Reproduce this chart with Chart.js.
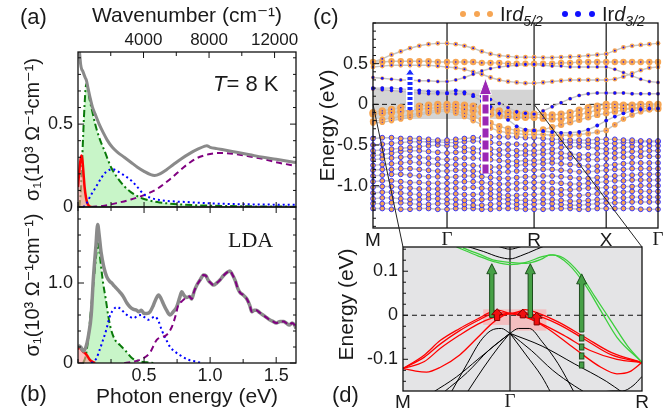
<!DOCTYPE html>
<html>
<head>
<meta charset="utf-8">
<script src="https://cdn.jsdelivr.net/npm/chart.js@4.4.1/dist/chart.umd.min.js"></script>
<style>
  body { margin: 0; width: 667px; height: 417px; overflow: hidden; position: relative; background: #fff;
         font-family: 'Liberation Sans', 'DejaVu Sans', Arial, sans-serif; color: #1a1a1a; }
  canvas { position: absolute; left: 0; top: 0; }
  .lab { position: absolute; white-space: nowrap; line-height: 1; }
  .dot { position: absolute; width: 6px; height: 6px; border-radius: 3px; }
</style>
</head>
<body>
<canvas id="ca" width="667" height="417"></canvas>
<canvas id="cb" width="667" height="417"></canvas>
<canvas id="cc" width="667" height="417"></canvas>
<canvas id="cd" width="667" height="417"></canvas>

<div class="lab" style="left:20px;top:6px;font-size:22px">(a)</div>
<div class="lab" style="left:20px;top:383px;font-size:22px">(b)</div>
<div class="lab" style="left:313px;top:6px;font-size:22px">(c)</div>
<div class="lab" style="left:332px;top:384px;font-size:22px">(d)</div>
<div class="lab" style="left:213px;top:73px;font-size:22px"><i>T</i>= 8 K</div>
<div class="lab" style="left:228px;top:229px;font-size:22px;font-family:'Liberation Serif',serif">LDA</div>

<div class="dot" style="left:460px;top:11px;background:#f6a553"></div>
<div class="dot" style="left:474px;top:11px;background:#f6a553"></div>
<div class="dot" style="left:487px;top:11px;background:#f6a553"></div>
<div class="lab" style="left:500px;top:4px;font-size:20px">Ir<i>d</i><sub style="font-size:14px"><i>5/2</i></sub></div>
<div class="dot" style="left:562px;top:11px;background:#1010ff"></div>
<div class="dot" style="left:575px;top:11px;background:#1010ff"></div>
<div class="dot" style="left:589px;top:11px;background:#1010ff"></div>
<div class="lab" style="left:602px;top:4px;font-size:20px">Ir<i>d</i><sub style="font-size:14px"><i>3/2</i></sub></div>

<script>
'use strict';

// ---------- panel (a): optical conductivity at 8 K, [eV, 10^3 Ohm^-1 cm^-1] ----------
const expA = [[0.003,0.97],[0.012,0.93],[0.02,0.86],[0.028,0.83],[0.036,0.82],[0.045,0.8],[0.055,0.78],
  [0.065,0.76],[0.075,0.72],[0.09,0.665],[0.11,0.6],[0.13,0.56],[0.16,0.5],[0.19,0.45],[0.22,0.405],
  [0.26,0.36],[0.3,0.33],[0.35,0.3],[0.4,0.27],[0.45,0.24],[0.5,0.215],[0.55,0.195],[0.58,0.19],
  [0.62,0.2],[0.67,0.225],[0.72,0.255],[0.78,0.29],[0.85,0.325],[0.91,0.35],[0.96,0.367],[0.975,0.37],
  [1.0,0.36],[1.05,0.352],[1.1,0.345],[1.2,0.33],[1.3,0.315],[1.4,0.3],[1.5,0.288],[1.6,0.275],[1.65,0.268]];
const redA = [[0,0.12],[0.01,0.22],[0.02,0.29],[0.027,0.31],[0.034,0.28],[0.042,0.2],[0.05,0.12],
  [0.06,0.06],[0.07,0.025],[0.085,0.005],[0.1,0]];
const greenA = [[0.01,0],[0.02,0.08],[0.03,0.25],[0.04,0.45],[0.05,0.62],[0.058,0.72],[0.066,0.745],
  [0.075,0.71],[0.09,0.64],[0.11,0.57],[0.13,0.5],[0.16,0.42],[0.2,0.34],[0.25,0.24],[0.3,0.175],
  [0.35,0.125],[0.4,0.09],[0.45,0.065],[0.5,0.048],[0.6,0.03],[0.7,0.02],[0.8,0.014],[1.0,0.008],
  [1.3,0.004],[1.65,0.002]];
const blueA = [[0.04,0],[0.06,0.015],[0.08,0.045],[0.1,0.075],[0.12,0.1],[0.15,0.14],[0.18,0.18],
  [0.21,0.21],[0.24,0.225],[0.26,0.228],[0.29,0.22],[0.33,0.2],[0.37,0.18],[0.41,0.155],[0.45,0.12],
  [0.5,0.075],[0.55,0.055],[0.62,0.042],[0.7,0.035],[0.82,0.03],[1.0,0.022],[1.3,0.016],[1.65,0.013]];
const purpleA = [[0.1,0],[0.2,0.008],[0.3,0.025],[0.4,0.045],[0.5,0.072],[0.6,0.11],[0.7,0.17],
  [0.8,0.24],[0.85,0.27],[0.9,0.295],[0.95,0.31],[1.0,0.32],[1.05,0.325],[1.1,0.325],[1.2,0.318],
  [1.3,0.305],[1.4,0.29],[1.5,0.27],[1.6,0.255],[1.65,0.248]];
const wnTicks = [2000, 4000, 6000, 8000, 10000, 12000];
const wnLabels = [4000, 8000, 12000];

// ---------- panel (b): LDA conductivity ----------
const ldaB = [[0,0.22],[0.02,0.2],[0.04,0.15],[0.06,0.2],[0.08,0.35],[0.1,0.6],[0.116,1.05],[0.135,1.45],
  [0.149,1.73],[0.16,1.6],[0.175,1.38],[0.195,1.2],[0.217,1.08],[0.24,1.02],[0.255,1.0],[0.275,0.96],
  [0.293,0.93],[0.32,0.88],[0.343,0.83],[0.37,0.75],[0.394,0.7],[0.42,0.67],[0.444,0.66],[0.46,0.64],
  [0.48,0.66],[0.5,0.62],[0.52,0.62],[0.545,0.64],[0.57,0.72],[0.59,0.8],[0.61,0.85],[0.63,0.8],
  [0.646,0.74],[0.67,0.66],[0.697,0.6],[0.72,0.64],[0.747,0.7],[0.77,0.82],[0.785,0.89],[0.805,0.84],
  [0.823,0.82],[0.845,0.83],[0.86,0.8],[0.88,0.9],[0.9,0.975],[0.925,1.04],[0.95,1.1],[0.968,1.09],
  [0.987,1.03],[1.005,1.0],[1.025,0.975],[1.05,1.0],[1.076,1.04],[1.1,1.09],[1.126,1.13],[1.15,1.15],
  [1.17,1.1],[1.19,1.03],[1.21,0.93],[1.227,0.88],[1.25,0.85],[1.278,0.8],[1.3,0.72],[1.316,0.64],
  [1.335,0.66],[1.35,0.66],[1.375,0.63],[1.4,0.6],[1.425,0.57],[1.45,0.54],[1.475,0.52],[1.5,0.5],
  [1.53,0.52],[1.556,0.52],[1.575,0.5],[1.6,0.475],[1.62,0.5],[1.644,0.46],[1.65,0.43]];
const redB = [[0,0.17],[0.008,0.2],[0.016,0.2],[0.025,0.17],[0.04,0.14],[0.055,0.12],[0.07,0.09],
  [0.09,0.04],[0.11,0.015],[0.13,0]];
const greenB = [[0.04,0],[0.06,0.1],[0.08,0.35],[0.1,0.7],[0.12,1.05],[0.14,1.38],[0.15,1.5],[0.16,1.42],
  [0.175,1.2],[0.19,1.0],[0.21,0.8],[0.23,0.58],[0.25,0.42],[0.28,0.29],[0.32,0.22],[0.356,0.16],
  [0.41,0.06],[0.47,0.02],[0.52,0.008],[0.57,0]];
const blueB = [[0.1,0],[0.116,0.016],[0.14,0.06],[0.165,0.17],[0.19,0.29],[0.215,0.42],[0.24,0.58],
  [0.265,0.66],[0.293,0.7],[0.32,0.68],[0.356,0.62],[0.39,0.58],[0.42,0.56],[0.45,0.59],[0.48,0.6],
  [0.505,0.57],[0.53,0.54],[0.555,0.56],[0.583,0.58],[0.61,0.52],[0.634,0.41],[0.665,0.3],[0.697,0.2],
  [0.735,0.14],[0.77,0.1],[0.836,0.04],[0.9,0.015],[0.93,0]];
const purpleB = [[0.35,0],[0.4,0.01],[0.45,0.03],[0.495,0.06],[0.545,0.13],[0.596,0.29],[0.63,0.32],
  [0.67,0.35],[0.71,0.45],[0.74,0.6],[0.76,0.73],[0.785,0.77],[0.805,0.8],[0.823,0.82],[0.845,0.83],
  [0.86,0.8],[0.88,0.9],[0.9,0.975],[0.925,1.04],[0.95,1.1],[0.968,1.09],[0.987,1.03],[1.005,1.0],
  [1.025,0.975],[1.05,1.0],[1.076,1.04],[1.1,1.09],[1.126,1.13],[1.15,1.15],[1.17,1.1],[1.19,1.03],
  [1.21,0.93],[1.227,0.88],[1.25,0.85],[1.278,0.8],[1.3,0.72],[1.316,0.64],[1.335,0.66],[1.35,0.66],
  [1.375,0.63],[1.4,0.6],[1.425,0.57],[1.45,0.54],[1.475,0.52],[1.5,0.5],[1.53,0.52],[1.556,0.52],
  [1.575,0.5],[1.6,0.475],[1.62,0.5],[1.644,0.46],[1.65,0.43]];

// ---------- panel (c): bands along M-G-R-X-G, energies in eV ----------
const kPath = [0,0.125,0.25,0.375,0.5,0.625,0.75,0.875,1,
  1.118,1.235,1.353,1.47,1.588,1.706,1.824,1.941,2.059,2.176,
  2.298,2.42,2.541,2.663,2.785,2.907,3.029,3.15,
  3.267,3.383,3.5,3.617,3.733,3.85];
const kSym = [0, 1, 2.176, 3.15, 3.85];
const kNames = ['M', 'Γ', 'R', 'X', 'Γ'];
const bandsUp = [
  [0.52,0.56,0.61,0.65,0.69,0.72,0.74,0.75,0.75, 0.74,0.72,0.69,0.65,0.62,0.60,0.59,0.58,0.58,0.58, 0.575,0.575,0.58,0.585,0.59,0.60,0.61,0.62, 0.66,0.70,0.72,0.73,0.74,0.75],
  [0.52,0.52,0.53,0.53,0.53,0.53,0.53,0.52,0.52, 0.52,0.52,0.52,0.51,0.51,0.51,0.50,0.50,0.50,0.50, 0.50,0.50,0.51,0.51,0.52,0.52,0.52,0.52, 0.52,0.52,0.52,0.52,0.52,0.52],
  [0.46,0.47,0.48,0.48,0.48,0.48,0.48,0.47,0.46, 0.45,0.43,0.40,0.37,0.33,0.30,0.28,0.27,0.26,0.26, 0.27,0.28,0.29,0.30,0.30,0.30,0.30,0.30, 0.31,0.34,0.38,0.42,0.45,0.46],
  [0.33,0.32,0.31,0.30,0.30,0.29,0.29,0.28,0.28, 0.30,0.33,0.37,0.41,0.44,0.46,0.47,0.48,0.49,0.49, 0.48,0.47,0.47,0.46,0.46,0.46,0.46,0.46, 0.43,0.39,0.35,0.31,0.28,0.27],
  [0.20,0.20,0.20,0.19,0.18,0.17,0.16,0.15,0.14, 0.17,0.15,0.10,0.04,-0.03,-0.11,-0.19,-0.27,-0.31,-0.32, -0.33,-0.34,-0.35,-0.35,-0.34,-0.31,-0.26,-0.20, -0.15,-0.11,-0.08,-0.06,-0.05,-0.05],
  [0.19,0.18,0.17,0.16,0.15,0.14,0.13,0.13,0.13, 0.13,0.13,0.12,0.10,0.06,0.01,-0.04,-0.09,-0.11,-0.12, -0.08,-0.03,0.02,0.07,0.11,0.13,0.14,0.14, 0.14,0.14,0.13,0.13,0.13,0.13],
  [-0.10,-0.08,-0.06,-0.04,-0.03,-0.02,-0.01,0.00,0.00, 0.00,-0.01,-0.02,-0.04,-0.06,-0.08,-0.10,-0.11,-0.12,-0.12, -0.13,-0.13,-0.12,-0.10,-0.07,-0.04,-0.02,0.00, 0.00,-0.01,-0.01,0.00,0.00,0.00],
  [-0.12,-0.11,-0.10,-0.09,-0.07,-0.06,-0.05,-0.04,-0.03, -0.04,-0.06,-0.08,-0.10,-0.12,-0.14,-0.15,-0.16,-0.16,-0.16, -0.17,-0.18,-0.18,-0.16,-0.13,-0.10,-0.07,-0.04, -0.04,-0.05,-0.05,-0.05,-0.05,-0.05],
  [-0.21,-0.19,-0.17,-0.15,-0.13,-0.11,-0.09,-0.07,-0.06, -0.08,-0.11,-0.15,-0.19,-0.23,-0.27,-0.30,-0.32,-0.33,-0.33, -0.31,-0.28,-0.25,-0.22,-0.19,-0.16,-0.13,-0.11, -0.09,-0.07,-0.05,-0.03,-0.02,-0.02],
  [-0.23,-0.22,-0.20,-0.18,-0.16,-0.13,-0.11,-0.09,-0.08, -0.11,-0.15,-0.20,-0.25,-0.29,-0.33,-0.35,-0.36,-0.37,-0.37, -0.37,-0.38,-0.38,-0.38,-0.37,-0.36,-0.34,-0.32, -0.25,-0.18,-0.13,-0.09,-0.07,-0.06]
];
const bandsLow = [
  [-0.42,-0.41,-0.41,-0.42,-0.42,-0.42,-0.43,-0.44,-0.44, -0.43,-0.42,-0.41,-0.41,-0.40,-0.40,-0.40,-0.40,-0.41,-0.41, -0.42,-0.43,-0.43,-0.44,-0.44,-0.44,-0.43,-0.43, -0.43,-0.44,-0.44,-0.45,-0.45,-0.45],
  [-0.50,-0.49,-0.48,-0.47,-0.46,-0.46,-0.46,-0.46,-0.47, -0.47,-0.46,-0.45,-0.46,-0.47,-0.48,-0.49,-0.49,-0.50,-0.50, -0.49,-0.48,-0.47,-0.47,-0.47,-0.48,-0.48,-0.48, -0.48,-0.47,-0.47,-0.46,-0.46,-0.46],
  [-0.57,-0.56,-0.55,-0.54,-0.53,-0.52,-0.51,-0.50,-0.51, -0.52,-0.53,-0.54,-0.55,-0.55,-0.56,-0.56,-0.57,-0.57,-0.57, -0.56,-0.55,-0.53,-0.52,-0.52,-0.53,-0.54,-0.55, -0.54,-0.53,-0.52,-0.52,-0.51,-0.51],
  [-0.63,-0.62,-0.60,-0.58,-0.57,-0.57,-0.58,-0.59,-0.60, -0.59,-0.58,-0.59,-0.60,-0.61,-0.62,-0.63,-0.63,-0.62,-0.62, -0.61,-0.60,-0.60,-0.61,-0.62,-0.62,-0.61,-0.60, -0.60,-0.59,-0.58,-0.58,-0.57,-0.57],
  [-0.68,-0.67,-0.66,-0.65,-0.64,-0.65,-0.66,-0.67,-0.68, -0.67,-0.66,-0.66,-0.67,-0.68,-0.69,-0.70,-0.70,-0.69,-0.69, -0.68,-0.67,-0.66,-0.66,-0.67,-0.68,-0.68,-0.67, -0.66,-0.65,-0.65,-0.64,-0.64,-0.64],
  [-0.75,-0.74,-0.73,-0.72,-0.71,-0.72,-0.73,-0.74,-0.75, -0.74,-0.74,-0.75,-0.76,-0.77,-0.77,-0.76,-0.75,-0.74,-0.74, -0.73,-0.72,-0.73,-0.74,-0.75,-0.76,-0.76,-0.75, -0.74,-0.73,-0.72,-0.72,-0.72,-0.72],
  [-0.81,-0.80,-0.80,-0.79,-0.79,-0.80,-0.81,-0.82,-0.82, -0.81,-0.81,-0.82,-0.83,-0.83,-0.84,-0.83,-0.82,-0.81,-0.81, -0.80,-0.80,-0.81,-0.82,-0.83,-0.83,-0.82,-0.81, -0.80,-0.80,-0.79,-0.79,-0.79,-0.79],
  [-0.88,-0.87,-0.86,-0.86,-0.87,-0.88,-0.89,-0.89,-0.90, -0.89,-0.88,-0.88,-0.89,-0.90,-0.91,-0.91,-0.90,-0.89,-0.89, -0.88,-0.88,-0.89,-0.90,-0.91,-0.91,-0.90,-0.89, -0.88,-0.87,-0.87,-0.86,-0.86,-0.86],
  [-0.95,-0.94,-0.94,-0.95,-0.96,-0.96,-0.97,-0.97,-0.97, -0.96,-0.95,-0.95,-0.96,-0.97,-0.98,-0.98,-0.97,-0.96,-0.96, -0.96,-0.96,-0.97,-0.98,-0.98,-0.97,-0.96,-0.95, -0.94,-0.94,-0.93,-0.93,-0.93,-0.93],
  [-1.02,-1.01,-1.01,-1.02,-1.03,-1.04,-1.04,-1.04,-1.04, -1.03,-1.03,-1.02,-1.03,-1.04,-1.05,-1.05,-1.04,-1.03,-1.03, -1.03,-1.04,-1.05,-1.05,-1.04,-1.03,-1.03,-1.02, -1.02,-1.01,-1.01,-1.00,-1.00,-1.00],
  [-1.09,-1.08,-1.08,-1.09,-1.10,-1.11,-1.11,-1.10,-1.10, -1.10,-1.11,-1.11,-1.10,-1.10,-1.11,-1.12,-1.12,-1.11,-1.11, -1.10,-1.10,-1.11,-1.12,-1.12,-1.11,-1.10,-1.09, -1.08,-1.08,-1.07,-1.07,-1.07,-1.07],
  [-1.16,-1.15,-1.15,-1.16,-1.17,-1.17,-1.16,-1.16,-1.17, -1.17,-1.18,-1.18,-1.17,-1.16,-1.16,-1.17,-1.18,-1.18,-1.18, -1.17,-1.17,-1.18,-1.19,-1.19,-1.18,-1.17,-1.16, -1.15,-1.15,-1.14,-1.14,-1.14,-1.14],
  [-1.22,-1.22,-1.21,-1.21,-1.22,-1.23,-1.23,-1.22,-1.22, -1.23,-1.23,-1.24,-1.24,-1.23,-1.22,-1.22,-1.23,-1.23,-1.23, -1.22,-1.22,-1.23,-1.24,-1.24,-1.23,-1.22,-1.21, -1.21,-1.21,-1.20,-1.20,-1.20,-1.20],
  [-1.28,-1.28,-1.29,-1.29,-1.29,-1.28,-1.28,-1.29,-1.29, -1.28,-1.28,-1.28,-1.29,-1.29,-1.28,-1.28,-1.28,-1.29,-1.29, -1.29,-1.28,-1.28,-1.28,-1.29,-1.29,-1.28,-1.28, -1.28,-1.28,-1.28,-1.29,-1.29,-1.29]
];
// dot sizes (d5/2 = orange, d3/2 = blue) for the upper bands
const rOrangeUp = [2.4, 3.2, 2.4, 2.0, 1.8, 2.0, 3.6, 3.6, 3.2, 2.8];
const rBlueUp = [0.9, 0.8, 1.0, 1.4, 1.9, 1.7, 0.7, 0.7, 0.5, 0.5];

// ---------- panel (d): zoom near E_F along M-G-R ----------
const kSymD = [0, 1, 2.234];
const kNamesD = ['M', 'Γ', 'R'];
const redD = [
  [[0,-0.121],[0.2,-0.09],[0.35,-0.057],[0.53,-0.03],[0.7,-0.008],[0.83,0.008],[0.9,0.011],[1.0,0.004],[1.1,0.01],[1.14,0.013],[1.25,0.006],[1.45,-0.015],[1.7,-0.05],[1.95,-0.085],[2.234,-0.107]],
  [[0,-0.121],[0.2,-0.095],[0.35,-0.065],[0.53,-0.035],[0.7,-0.012],[0.83,0.003],[0.9,0.006],[1.0,0.004],[1.1,0.006],[1.2,0.003],[1.45,-0.02],[1.7,-0.055],[1.95,-0.09],[2.234,-0.107]],
  [[0,-0.121],[0.2,-0.105],[0.35,-0.075],[0.53,-0.045],[0.7,-0.02],[0.85,-0.005],[1.0,0.004],[1.15,-0.005],[1.3,-0.02],[1.5,-0.045],[1.75,-0.08],[2.0,-0.1],[2.234,-0.107]],
  [[0,-0.121],[0.12,-0.127],[0.22,-0.129],[0.35,-0.118],[0.53,-0.09],[0.7,-0.05],[0.85,-0.015],[1.0,0.004],[1.15,-0.003],[1.35,-0.03],[1.6,-0.075],[1.85,-0.118],[2.0,-0.133],[2.12,-0.128],[2.234,-0.107]]
];
const greenD = [
  [[0.56,0.153],[0.7,0.14],[0.85,0.125],[1.0,0.12],[1.15,0.118],[1.3,0.128],[1.375,0.137],[1.5,0.13],[1.65,0.095],[1.8,0.04],[1.95,-0.015],[2.1,-0.07],[2.234,-0.107]],
  [[0.5,0.155],[0.7,0.135],[0.85,0.122],[1.0,0.115],[1.15,0.12],[1.3,0.133],[1.4,0.137],[1.55,0.115],[1.7,0.07],[1.85,0.01],[2.0,-0.05],[2.234,-0.107]]
];
const blackD = [
  [[0.28,-0.175],[0.5,-0.14],[0.7,-0.1],[0.85,-0.07],[1.0,-0.041]],
  [[0.38,-0.175],[0.6,-0.13],[0.8,-0.08],[1.0,-0.041]],
  [[0.6,-0.175],[0.75,-0.12],[0.9,-0.07],[1.0,-0.041]],
  [[0.45,-0.175],[0.6,-0.11],[0.72,-0.06],[0.82,-0.035],[0.92,-0.03],[1.0,-0.041]],
  [[1.0,-0.041],[1.08,-0.03],[1.18,-0.03],[1.3,-0.06],[1.45,-0.11],[1.6,-0.175]],
  [[1.0,-0.041],[1.2,-0.08],[1.4,-0.125],[1.6,-0.16],[1.7,-0.175]],
  [[1.0,-0.041],[1.15,-0.09],[1.3,-0.14],[1.38,-0.175]],
  [[1.0,-0.041],[1.3,-0.07],[1.6,-0.11],[1.9,-0.15],[2.05,-0.175]],
  [[1.85,-0.175],[1.95,-0.172],[2.05,-0.172],[2.15,-0.16],[2.234,-0.139]],
  [[0.55,0.16],[0.75,0.145],[0.9,0.132],[1.0,0.128],[1.1,0.135],[1.25,0.15],[1.35,0.16]],
  [[0.85,0.16],[0.95,0.152],[1.0,0.15],[1.05,0.152],[1.15,0.16]]
];

// annotations (arrows, shaded windows)
const gapBox = {k0: 0, k1: 2.176, e0: -0.18, e1: 0.18};
const arrowsC = [
  {k: 0.5, from: -0.07, base: 0.36, tip: 0.44, color: '#1a2cff', w: 5, hw: 4.5, dash: [3, 2]},
  {k: 1.52, from: -0.85, base: 0.12, tip: 0.32, color: '#9b27b5', w: 6, hw: 6, dash: [9, 3]}
];
const pinkBoxes = [[0.75, 1.0, 0.0135, -0.022], [1.0, 1.34, 0.0135, -0.035]];
const greenArrows = [{k: 0.83, from: -0.005, to: 0.117}, {k: 1.19, from: -0.005, to: 0.117},
  {k: 1.67, from: -0.12, to: 0.094, dashBelow: -0.038}];
const redArrows = [{k: 0.88, from: -0.012, to: 0.015}, {k: 1.12, from: -0.006, to: 0.014},
  {k: 1.25, from: -0.022, to: 0.007}];

// ---------- helpers ----------
Chart.defaults.font.family = "'Liberation Sans', 'DejaVu Sans', Arial, sans-serif";
Chart.defaults.font.size = 18;
Chart.defaults.color = '#1a1a1a';
Chart.defaults.elements.point.radius = 0;
Chart.defaults.elements.line.cubicInterpolationMode = 'monotone';

const pts = a => a.map(p => ({x: p[0], y: p[1]}));
const kPts = band => band.map((e, i) => ({x: kPath[i], y: e}));
const near = (v, t) => Math.abs(v - t) < 1e-6;

const labA = v => near(v, 0) ? '0' : near(v, 0.5) ? '0.5' : '';
const labB = v => near(v, 0) ? '0' : near(v, 1) ? '1.0' : '';
const labEx = v => (v > 0.01 && near(v * 2, Math.round(v * 2))) ? v.toFixed(1) : '';
const labC = v => {
  if (!near(v * 2, Math.round(v * 2)) || v > 0.6 || v < -1.2) return '';
  return near(v, 0) ? '0' : v.toFixed(1);
};
const labD = v => {
  if (!near(v * 10, Math.round(v * 10))) return '';
  return near(v, 0) ? '0' : v.toFixed(1);
};

function scale(o) {
  return Object.assign({
    type: 'linear',
    grid: {display: false, drawTicks: false},
    border: {display: false}
  }, o);
}
const tk = (o) => Object.assign({autoSkip: false, maxRotation: 0, includeBounds: false}, o);
const symFont = c => ({size: 19, family: (c.tick && c.tick.label === 'Γ') ? "'Liberation Serif', serif" : "'Liberation Sans', Arial, sans-serif"});

// frame box + inward tick marks
function frame(marks) {
  return {
    id: 'frame',
    afterDatasetsDraw(chart) {
      const {ctx, chartArea: a} = chart;
      ctx.save();
      ctx.strokeStyle = '#111';
      ctx.lineWidth = 1.3;
      ctx.strokeRect(a.left, a.top, a.right - a.left, a.bottom - a.top);
      ctx.lineWidth = 1;
      marks.forEach(([id, sides, major, minor]) => {
        const s = chart.scales[id];
        s.ticks.forEach(t => {
          const p = s.getPixelForValue(t.value);
          const len = t.label ? major : minor;
          sides.forEach(side => {
            ctx.beginPath();
            if (side === 'l') { ctx.moveTo(a.left, p); ctx.lineTo(a.left + len, p); }
            if (side === 'r') { ctx.moveTo(a.right, p); ctx.lineTo(a.right - len, p); }
            if (side === 't') { ctx.moveTo(p, a.top); ctx.lineTo(p, a.top + len); }
            if (side === 'b') { ctx.moveTo(p, a.bottom); ctx.lineTo(p, a.bottom - len); }
            ctx.stroke();
          });
        });
      });
      ctx.restore();
    }
  };
}

const base = {
  responsive: false, animation: false, devicePixelRatio: 1,
  plugins: {legend: {display: false}, tooltip: {enabled: false}}
};

// ---------- chart (a) ----------
new Chart(document.getElementById('ca'), {
  type: 'line',
  data: {datasets: [
    {data: pts(expA), borderColor: '#8a8a8a', borderWidth: 3},
    {data: pts(blueA), borderColor: '#0000ff', borderWidth: 2, borderDash: [2, 3]},
    {data: pts(purpleA), borderColor: '#800080', borderWidth: 2, borderDash: [6, 4]},
    {data: pts(redA), borderColor: '#ff0000', borderWidth: 2.5, fill: 'origin', backgroundColor: 'rgba(255,150,150,0.6)'},
    {data: pts(greenA), borderColor: '#0a7a0a', borderWidth: 2, borderDash: [7, 3, 2, 3], fill: 'origin', backgroundColor: '#c8f5c8'}
  ]},
  options: Object.assign({}, base, {
    layout: {padding: {left: 17, right: 371, top: 0, bottom: 209}},
    scales: {
      x: scale({min: 0, max: 1.65, ticks: tk({stepSize: 0.25, callback: () => ''}), afterFit: s => { s.height = 1; }}),
      x2: scale({position: 'top', min: 0, max: 13308,
        afterBuildTicks: s => { s.ticks = wnTicks.map(v => ({value: v})); },
        ticks: tk({padding: 1, font: {size: 17}, callback: v => wnLabels.includes(v) ? String(v) : ''}),
        title: {display: true, text: 'Wavenumber (cm⁻¹)', font: {size: 21}, padding: {top: 4, bottom: 4}},
        afterFit: s => { s.height = 52; }}),
      y: scale({min: 0, max: 0.935, ticks: tk({stepSize: 0.1, padding: 5, callback: labA}),
        title: {display: true, text: 'σ₁(10³ Ω⁻¹cm⁻¹)', font: {size: 20}, padding: {top: 4, bottom: 4}},
        afterFit: s => { s.width = 61; }})
    }
  }),
  plugins: [frame([['y', ['l', 'r'], 6, 3], ['x', ['b'], 5, 5], ['x2', ['t'], 6, 4]])]
});

// ---------- chart (b) ----------
new Chart(document.getElementById('cb'), {
  type: 'line',
  data: {datasets: [
    {data: pts(purpleB), borderColor: '#800080', borderWidth: 2, borderDash: [6, 4]},
    {data: pts(ldaB), borderColor: '#8a8a8a', borderWidth: 3.5},
    {data: pts(blueB), borderColor: '#0000ff', borderWidth: 2, borderDash: [2, 3]},
    {data: pts(redB), borderColor: '#ff0000', borderWidth: 2.5, fill: 'origin', backgroundColor: 'rgba(255,150,150,0.6)'},
    {data: pts(greenB), borderColor: '#0a7a0a', borderWidth: 2, borderDash: [7, 3, 2, 3], fill: 'origin', backgroundColor: '#c8f5c8'}
  ]},
  options: Object.assign({}, base, {
    layout: {padding: {left: 17, right: 371, top: 207, bottom: 3}},
    scales: {
      x: scale({min: 0, max: 1.65, ticks: tk({stepSize: 0.25, padding: 2, callback: labEx}),
        title: {display: true, text: 'Photon energy (eV)', font: {size: 21}, padding: {top: 4, bottom: 4}},
        afterFit: s => { s.height = 51; }}),
      y: scale({min: 0, max: 1.95, ticks: tk({stepSize: 0.2, padding: 5, callback: labB}),
        title: {display: true, text: 'σ₁(10³ Ω⁻¹cm⁻¹)', font: {size: 20}, padding: {top: 4, bottom: 4}},
        afterFit: s => { s.width = 61; }})
    }
  }),
  plugins: [frame([['y', ['l', 'r'], 6, 3], ['x', ['t', 'b'], 6, 4]])]
});

// ---------- chart (c) ----------
function arrowC(ctx, x, y, a) {
  const x0 = x.getPixelForValue(a.k);
  const yF = y.getPixelForValue(a.from), yB = y.getPixelForValue(a.base), yT = y.getPixelForValue(a.tip);
  ctx.lineCap = 'butt';
  ctx.strokeStyle = '#fff';
  ctx.lineWidth = a.w + 3;
  ctx.beginPath(); ctx.moveTo(x0, yF); ctx.lineTo(x0, yB); ctx.stroke();
  ctx.setLineDash(a.dash);
  ctx.strokeStyle = a.color;
  ctx.lineWidth = a.w;
  ctx.beginPath(); ctx.moveTo(x0, yF); ctx.lineTo(x0, yB); ctx.stroke();
  ctx.setLineDash([]);
  ctx.beginPath();
  ctx.moveTo(x0 - a.hw, yB); ctx.lineTo(x0, yT); ctx.lineTo(x0 + a.hw, yB); ctx.closePath();
  ctx.fillStyle = a.color; ctx.fill();
  ctx.strokeStyle = '#fff'; ctx.lineWidth = 1; ctx.stroke();
}

const decorC = {
  id: 'decorC',
  beforeDatasetsDraw(chart) {
    const {ctx, chartArea: a, scales: {x, y}} = chart;
    ctx.save();
    ctx.fillStyle = '#d4d4d4';
    const gx0 = x.getPixelForValue(gapBox.k0), gx1 = x.getPixelForValue(gapBox.k1);
    const gy0 = y.getPixelForValue(gapBox.e1), gy1 = y.getPixelForValue(gapBox.e0);
    ctx.fillRect(gx0, gy0, gx1 - gx0, gy1 - gy0);
    ctx.strokeStyle = '#111';
    ctx.lineWidth = 1.2;
    kSym.slice(1, -1).forEach(k => {
      const px = x.getPixelForValue(k);
      ctx.beginPath(); ctx.moveTo(px, a.top); ctx.lineTo(px, a.bottom); ctx.stroke();
    });
    ctx.setLineDash([5, 4]);
    ctx.lineWidth = 1;
    const y0 = y.getPixelForValue(0);
    ctx.beginPath(); ctx.moveTo(a.left, y0); ctx.lineTo(a.right, y0); ctx.stroke();
    ctx.restore();
  },
  afterDatasetsDraw(chart) {
    const {ctx, scales: {x, y}} = chart;
    ctx.save();
    arrowsC.forEach(a => arrowC(ctx, x, y, a));
    ctx.restore();
  }
};

const dsC = [];
bandsUp.forEach((b, i) => dsC.push({data: kPts(b), showLine: false, pointRadius: rBlueUp[i],
  pointBackgroundColor: '#1010ff', pointBorderWidth: 0, clip: 5}));
bandsUp.forEach((b, i) => dsC.push({data: kPts(b), showLine: false, pointRadius: rOrangeUp[i],
  pointBackgroundColor: '#f6a553', pointBorderWidth: 0, clip: 5}));
bandsLow.forEach(b => dsC.push({data: kPts(b), showLine: false, pointRadius: 2.4,
  pointBackgroundColor: '#f6a553', pointBorderColor: '#2828ff', pointBorderWidth: 0.9, clip: 5}));
bandsUp.concat(bandsLow).forEach(b => dsC.push({data: kPts(b), borderColor: '#c4c4c4', borderWidth: 1.4,
  cubicInterpolationMode: 'default', tension: 0}));

const chartC = new Chart(document.getElementById('cc'), {
  type: 'line',
  data: {datasets: dsC},
  options: Object.assign({}, base, {
    layout: {padding: {left: 311.4, right: 9, top: 23, bottom: 164}},
    scales: {
      x: scale({min: 0, max: 3.85,
        afterBuildTicks: s => { s.ticks = kSym.map(v => ({value: v})); },
        ticks: tk({padding: 1, font: symFont, callback: (v, i) => kNames[i]}),
        afterFit: s => { s.height = 25; }}),
      y: scale({min: -1.52, max: 1.0, ticks: tk({stepSize: 0.1, padding: 5, callback: labC}),
        title: {display: true, text: 'Energy (eV)', font: {size: 21}, padding: {top: 4, bottom: 4}},
        afterFit: s => { s.width = 61.6; }})
    }
  }),
  plugins: [decorC, frame([['y', ['l'], 6, 3]])]
});

// ---------- chart (d) ----------
function blockArrow(ctx, x0, yF, yT, w, hw, hl, fill, stroke) {
  ctx.beginPath();
  ctx.moveTo(x0 - w, yF);
  ctx.lineTo(x0 - w, yT + hl);
  ctx.lineTo(x0 - hw, yT + hl);
  ctx.lineTo(x0, yT);
  ctx.lineTo(x0 + hw, yT + hl);
  ctx.lineTo(x0 + w, yT + hl);
  ctx.lineTo(x0 + w, yF);
  ctx.closePath();
  ctx.fillStyle = fill; ctx.fill();
  ctx.strokeStyle = stroke; ctx.lineWidth = 1; ctx.stroke();
}

const decorD = {
  id: 'decorD',
  beforeDatasetsDraw(chart) {
    const {ctx, chartArea: a, scales: {x, y}} = chart;
    ctx.save();
    ctx.fillStyle = '#e4e4e6';
    ctx.fillRect(a.left, a.top, a.right - a.left, a.bottom - a.top);
    ctx.fillStyle = 'rgba(255,160,160,0.55)';
    pinkBoxes.forEach(([k0, k1, e1, e0]) => {
      const px0 = x.getPixelForValue(k0), px1 = x.getPixelForValue(k1);
      const py0 = y.getPixelForValue(e1), py1 = y.getPixelForValue(e0);
      ctx.fillRect(px0, py0, px1 - px0, py1 - py0);
    });
    ctx.strokeStyle = '#111';
    ctx.lineWidth = 1.2;
    const gx = x.getPixelForValue(kSymD[1]);
    ctx.beginPath(); ctx.moveTo(gx, a.top); ctx.lineTo(gx, a.bottom); ctx.stroke();
    ctx.setLineDash([5, 4]);
    ctx.lineWidth = 1;
    const y0 = y.getPixelForValue(0);
    ctx.beginPath(); ctx.moveTo(a.left, y0); ctx.lineTo(a.right, y0); ctx.stroke();
    ctx.restore();
  },
  afterDatasetsDraw(chart) {
    const {ctx, scales: {x, y}} = chart;
    ctx.save();
    greenArrows.forEach(g => {
      const px = x.getPixelForValue(g.k);
      const top = y.getPixelForValue(g.to);
      if (g.dashBelow !== undefined) {
        const ys = y.getPixelForValue(g.dashBelow), yb = y.getPixelForValue(g.from);
        blockArrow(ctx, px, ys, top, 2.2, 5, 10, '#46a046', '#1e4d1e');
        for (let yy = ys + 3; yy < yb; yy += 9) {
          ctx.fillStyle = '#46a046';
          ctx.fillRect(px - 2.2, yy, 4.4, Math.min(6, yb - yy));
          ctx.strokeStyle = '#1e4d1e';
          ctx.strokeRect(px - 2.2, yy, 4.4, Math.min(6, yb - yy));
        }
      } else {
        blockArrow(ctx, px, y.getPixelForValue(g.from), top, 2.2, 5, 10, '#46a046', '#1e4d1e');
      }
    });
    redArrows.forEach(r => {
      blockArrow(ctx, x.getPixelForValue(r.k), y.getPixelForValue(r.from), y.getPixelForValue(r.to),
        2.6, 5.5, 6, '#f01010', '#800000');
    });
    ctx.restore();
  },
  afterDraw(chart) {
    // zoom connectors from panel (c) to panel (d)
    const {ctx, chartArea: a} = chart;
    const cx = chartC.scales.x, cy = chartC.scales.y;
    ctx.save();
    ctx.strokeStyle = '#222';
    ctx.lineWidth = 1;
    ctx.beginPath();
    ctx.moveTo(cx.getPixelForValue(gapBox.k0), cy.getPixelForValue(0));
    ctx.lineTo(a.left, a.top);
    ctx.moveTo(cx.getPixelForValue(gapBox.k1), cy.getPixelForValue(0));
    ctx.lineTo(a.right, a.top);
    ctx.stroke();
    ctx.restore();
  }
};

const dsD = [];
blackD.forEach(b => dsD.push({data: pts(b), borderColor: '#000', borderWidth: 1}));
greenD.forEach(b => dsD.push({data: pts(b), borderColor: '#3ccf3c', borderWidth: 1.3}));
redD.forEach(b => dsD.push({data: pts(b), borderColor: '#ff0000', borderWidth: 1.3}));

new Chart(document.getElementById('cd'), {
  type: 'line',
  data: {datasets: dsD},
  options: Object.assign({}, base, {
    layout: {padding: {left: 330.9, right: 25, top: 247, bottom: 6}},
    scales: {
      x: scale({min: 0, max: 2.234,
        afterBuildTicks: s => { s.ticks = kSymD.map(v => ({value: v})); },
        ticks: tk({padding: 0, font: symFont, callback: (v, i) => kNamesD[i]}),
        afterFit: s => { s.height = 20; }}),
      y: scale({min: -0.172, max: 0.155, ticks: tk({stepSize: 0.025, padding: 5, callback: labD}),
        title: {display: true, text: '     Energy (eV)', font: {size: 21}, padding: {top: 4, bottom: 4}},
        afterFit: s => { s.width = 72.1; }})
    }
  }),
  plugins: [decorD, frame([['y', ['l'], 5, 3]])]
});
</script>
</body>
</html>
